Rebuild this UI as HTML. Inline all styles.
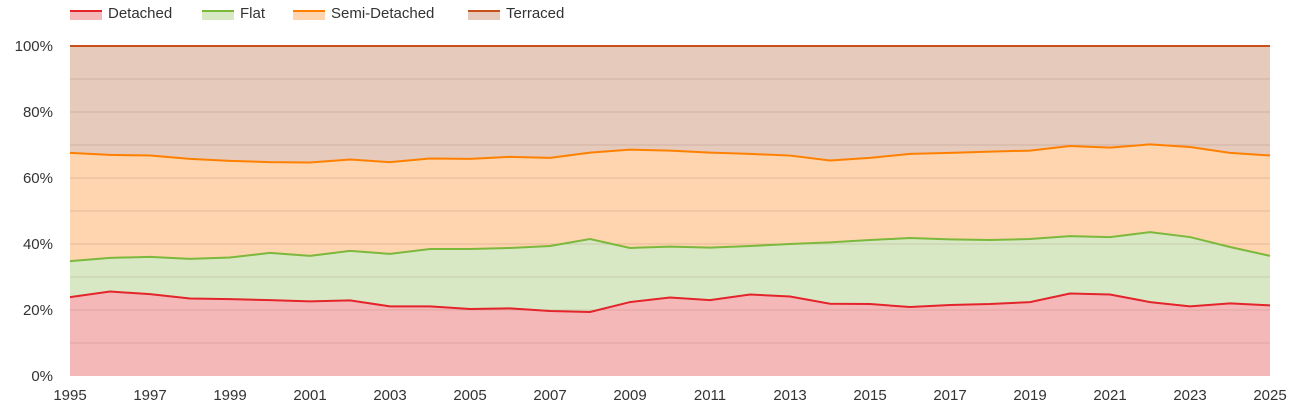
<!DOCTYPE html>
<html><head><meta charset="utf-8"><style>
body{margin:0;background:#fff;font-family:"Liberation Sans",sans-serif;}
svg text{font-family:"Liberation Sans",sans-serif;fill:#333;}
</style></head><body>
<svg id="chart" width="1305" height="410" xmlns="http://www.w3.org/2000/svg"></svg>
<script>
const years=[1995,1996,1997,1998,1999,2000,2001,2002,2003,2004,2005,2006,2007,2008,2009,2010,2011,2012,2013,2014,2015,2016,2017,2018,2019,2020,2021,2022,2023,2024,2025];
const detached=[23.9,25.6,24.8,23.5,23.3,23.0,22.6,22.9,21.1,21.1,20.3,20.5,19.7,19.4,22.4,23.8,23.0,24.7,24.1,21.9,21.8,20.9,21.5,21.8,22.4,25.0,24.7,22.4,21.1,22.0,21.4];
const flat=[10.9,10.2,11.3,12.0,12.6,14.3,13.8,15.0,15.9,17.4,18.2,18.3,19.7,22.1,16.4,15.4,15.9,14.7,15.9,18.6,19.4,20.9,19.9,19.4,19.1,17.4,17.4,21.2,21.0,17.1,15.0];
const semi=[32.8,31.2,30.7,30.3,29.3,27.5,28.3,27.7,27.8,27.4,27.3,27.6,26.7,26.2,29.8,29.1,28.8,27.9,26.8,24.8,24.9,25.5,26.2,26.8,26.8,27.3,27.1,26.6,27.3,28.5,30.4];
const terraced=[32.4,33.0,33.2,34.2,34.8,35.2,35.3,34.4,35.2,34.1,34.2,33.6,33.9,32.3,31.4,31.7,32.3,32.7,33.2,34.7,33.9,32.7,32.4,32.0,31.7,30.3,30.8,29.8,30.6,32.4,33.2];
const yTicks=[0,20,40,60,80,100];
const xTickYears=[1995,1997,1999,2001,2003,2005,2007,2009,2011,2013,2015,2017,2019,2021,2023,2025];
const seriesNames=["Detached","Flat","Semi-Detached","Terraced"];

const NS="http://www.w3.org/2000/svg";
const svg=document.getElementById('chart');
const L=70,R=1270,T=46,B=376;
const x=yr=>L+(yr-years[0])/(years[years.length-1]-years[0])*(R-L);
const y=v=>B-v/100*(B-T);
function mk(tag,attrs,parent){const e=document.createElementNS(NS,tag);for(const k in attrs)e.setAttribute(k,attrs[k]);(parent||svg).appendChild(e);return e;}
const series=[detached,flat,semi,terraced];
const fills=["#f5b8b8","#d8e8c4","#fed5af","#e6cabb"];
const strokes=["#e3242b","#7cb83c","#ff8000","#c8501a"];
const keys=["detached","flat","semi-detached","terraced"];
// cumulative normalised
const cum=[];
for(let s=0;s<4;s++){cum.push(years.map((_,i)=>{let tot=0,acc=0;for(let k=0;k<4;k++){tot+=series[k][i];if(k<=s)acc+=series[k][i];}return acc/tot*100;}));}
for(let s=0;s<4;s++){
  const top=years.map((yr,i)=>x(yr)+','+y(cum[s][i]));
  const bot=years.map((yr,i)=>x(yr)+','+y(s?cum[s-1][i]:0)).reverse();
  const a=mk('polygon',{points:top.concat(bot).join(' '),fill:fills[s]});
  
  
}
// gridlines
for(let v=10;v<=100;v+=10){
  const g=mk('line',{x1:L,x2:R,y1:y(v),y2:y(v),stroke:'rgba(120,80,60,0.18)','stroke-width':1});
  
  
}
for(let s=0;s<4;s++){
  const l=mk('polyline',{points:years.map((yr,i)=>x(yr)+','+y(cum[s][i])).join(' '),fill:'none',stroke:strokes[s],'stroke-width':2});
  
  
}
yTicks.forEach(v=>{
  const t=mk('text',{x:53,y:y(v)+5,'text-anchor':'end','font-size':15});
  t.textContent=v+'%';
  
  
});
xTickYears.forEach(yr=>{
  const t=mk('text',{x:x(yr),y:400,'text-anchor':'middle','font-size':15});
  t.textContent=yr;
  
  
});
const legX=[70,202,293,468];
seriesNames.forEach((n,s)=>{
  const g=mk('g',{});
  
  
  mk('rect',{x:legX[s],y:10,width:32,height:10,fill:fills[s]},g);
  mk('rect',{x:legX[s],y:10,width:32,height:2,fill:strokes[s]},g);
  const t=mk('text',{x:legX[s]+38,y:18,'font-size':15},g);
  t.textContent=n;
});
</script>
</body></html>
